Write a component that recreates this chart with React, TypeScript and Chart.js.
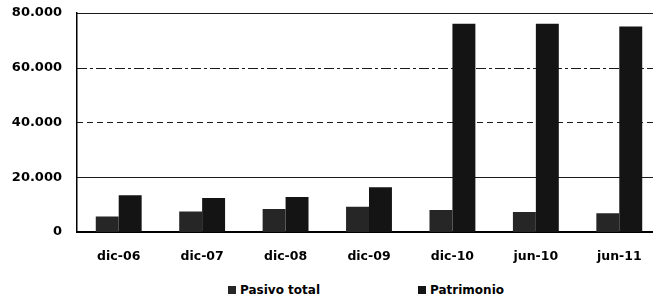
import React, { useEffect, useRef } from "react";
import { Chart, registerables } from "chart.js";

Chart.register(...registerables);

const categories = ["dic-06", "dic-07", "dic-08", "dic-09", "dic-10", "jun-10", "jun-11"];
const pasivoTotal = [5700, 7500, 8400, 9200, 8000, 7300, 6800];
const patrimonio = [13400, 12400, 12800, 16300, 76000, 76000, 75000];
const yTickValues = [0, 20000, 40000, 60000, 80000];
const yTickLabels = ["0", "20.000", "40.000", "60.000", "80.000"];
const seriesNames = ["Pasivo total", "Patrimonio"];
const seriesColors = ["#262626", "#141414"];
const gridDashes: number[][] = [[], [], [6, 4], [10, 3, 3, 3], []];

const FONT = "'DejaVu Sans', sans-serif";

const gridPlugin = {
  id: "customGrid",
  beforeDatasetsDraw(chart: any) {
    const y = chart.scales.y;
    const { left, right } = chart.chartArea;
    const ctx = chart.ctx;
    yTickValues.forEach((v, i) => {
      if (v === 0) return;
      const py = Math.round(y.getPixelForValue(v)) + 0.5;
      ctx.save();
      ctx.strokeStyle = "#1a1a1a";
      ctx.lineWidth = 1;
      ctx.setLineDash(gridDashes[i]);
      ctx.beginPath();
      ctx.moveTo(left, py);
      ctx.lineTo(right, py);
      ctx.stroke();
      ctx.restore();
    });
  },
};

export default function App() {
  const ref = useRef<HTMLCanvasElement | null>(null);

  useEffect(() => {
    if (!ref.current) return;
    const chart = new Chart(ref.current, {
      type: "bar",
      data: {
        labels: categories,
        datasets: [
          { label: seriesNames[0], data: pasivoTotal, backgroundColor: seriesColors[0], borderWidth: 0 },
          { label: seriesNames[1], data: patrimonio, backgroundColor: seriesColors[1], borderWidth: 0 },
        ],
      },
      options: {
        animation: false,
        responsive: false,
        maintainAspectRatio: false,
        layout: { padding: { top: 4, right: 9, bottom: 0, left: 0 } },
        datasets: { bar: { categoryPercentage: 0.55, barPercentage: 1.0 } },
        plugins: { legend: { display: false }, tooltip: { enabled: false } },
        scales: {
          x: {
            grid: { display: false, drawTicks: false },
            border: { display: true, color: "#000", width: 2 },
            ticks: {
              padding: 17,
              color: "#000",
              font: { family: FONT, size: 12.5, weight: "bold" },
            },
          },
          y: {
            min: 0,
            max: 80000,
            afterFit: (axis: any) => {
              axis.width = 77;
            },
            afterBuildTicks: (axis: any) => {
              axis.ticks = yTickValues.map((v) => ({ value: v }));
            },
            grid: { display: false, drawTicks: false },
            border: { display: true, color: "#000", width: 1.5 },
            ticks: {
              padding: 15,
              color: "#000",
              font: { family: FONT, size: 13, weight: "bold" },
              callback: (value: any) => {
                const idx = yTickValues.indexOf(Number(value));
                return idx >= 0 ? yTickLabels[idx] : "";
              },
            },
          },
        },
      },
      plugins: [gridPlugin],
    });
    return () => chart.destroy();
  }, []);

  const legendItem = (i: number, left: number) => (
    <div
      key={i}
      style={{
        position: "absolute",
        left,
        top: 283,
        display: "flex",
        alignItems: "center",
        fontFamily: FONT,
        fontWeight: "bold",
        fontSize: 12,
        color: "#000",
        whiteSpace: "nowrap",
      }}
    >
      <span
        style={{
          display: "inline-block",
          width: 8,
          height: 8,
          background: seriesColors[i],
          marginRight: 4,
        }}
      />
      <span>{seriesNames[i]}</span>
    </div>
  );

  return (
    <div
      style={{
        position: "fixed",
        left: 0,
        top: 0,
        width: 653,
        height: 299,
        overflow: "hidden",
        background: "#fff",
      }}
    >
      <canvas
        ref={ref}
        width={670}
        height={291}
        style={{ position: "absolute", left: 0, top: -10, width: 670, height: 291 }}
      />
      {legendItem(0, 228)}
      {legendItem(1, 418)}
    </div>
  );
}
